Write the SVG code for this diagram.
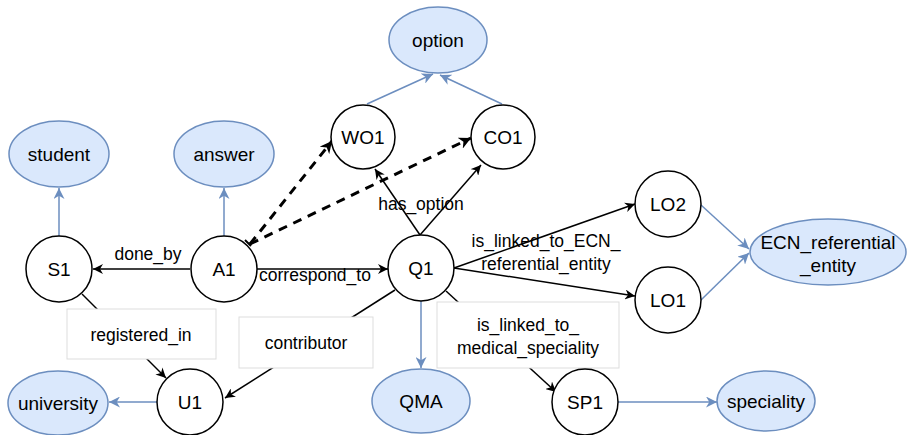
<svg xmlns="http://www.w3.org/2000/svg" width="909" height="435" viewBox="0 0 909 435">
<style>
.n{fill:#ffffff;stroke:#000000;stroke-width:1.5}
.c{fill:#dae8fc;stroke:#6c8ebf;stroke-width:1.5}
.t{font-family:"Liberation Sans",Arial,sans-serif;font-size:19px;fill:#000;text-anchor:middle}
.l{font-family:"Liberation Sans",Arial,sans-serif;font-size:17.5px;fill:#000;text-anchor:middle}
.e{fill:none;stroke:#000;stroke-width:1.5;marker-end:url(#ab)}
.d{fill:none;stroke:#000;stroke-width:3;stroke-dasharray:9,7;marker-end:url(#ad)}
.b{fill:none;stroke:#6c8ebf;stroke-width:1.5;marker-end:url(#au)}
.box{fill:#fff;stroke:#dddddd;stroke-width:1}
</style>
<defs>
<marker id="ab" viewBox="0 0 10 10" refX="10" refY="5" markerWidth="10" markerHeight="10" markerUnits="userSpaceOnUse" orient="auto"><path d="M0,0 L10,5 L0,10 L3,5 z" fill="#000"/></marker>
<marker id="ad" viewBox="0 0 10 10" refX="10" refY="5" markerWidth="12" markerHeight="12" markerUnits="userSpaceOnUse" orient="auto"><path d="M0,0 L10,5 L0,10 L3,5 z" fill="#000"/></marker>
<marker id="au" viewBox="0 0 10 10" refX="10" refY="5" markerWidth="11" markerHeight="11" markerUnits="userSpaceOnUse" orient="auto"><path d="M0,0 L10,5 L0,10 L3,5 z" fill="#6c8ebf"/></marker>
</defs>
<g id="connectors">
<line class="b" x1="59" y1="236" x2="59" y2="188"/>
<line class="b" x1="224" y1="236" x2="224" y2="188"/>
<line class="b" x1="367" y1="104" x2="433" y2="74"/>
<line class="b" x1="502" y1="104" x2="440" y2="75"/>
<line class="b" x1="421" y1="301" x2="421" y2="368"/>
<line class="b" x1="701" y1="205" x2="749" y2="249"/>
<line class="b" x1="701" y1="300" x2="749" y2="253"/>
<line class="b" x1="157" y1="402" x2="109" y2="402"/>
<line class="b" x1="618" y1="402" x2="717" y2="402"/>
<line class="e" x1="190" y1="269" x2="93" y2="269"/>
<line class="e" x1="257" y1="269" x2="388" y2="269"/>
<line class="e" x1="420" y1="235" x2="375" y2="169"/>
<line class="e" x1="420" y1="235" x2="481" y2="165"/>
<line class="e" x1="454" y1="268" x2="635" y2="204"/>
<line class="e" x1="454" y1="268" x2="635" y2="296"/>
<line class="e" x1="395" y1="290" x2="225" y2="398"/>
<line class="e" x1="82" y1="294" x2="166" y2="378"/>
<line class="e" x1="446" y1="291" x2="556" y2="392"/>
<line class="d" x1="250" y1="244" x2="332" y2="141"/>
<line class="d" x1="250" y1="244" x2="471" y2="138"/>
<path d="M245,240 L251,246" stroke="#000" stroke-width="2"/>
<text class="l" x="148" y="260">done_by</text>
<text class="l" x="315" y="281">correspond_to</text>
<text class="l" x="421" y="210">has_option</text>
<text class="l" x="546" y="247">is_linked_to_ECN_</text>
<text class="l" x="546" y="270">referential_entity</text>
<rect class="box" x="67" y="309" width="149" height="50"/>
<text class="l" x="141" y="341">registered_in</text>
<rect class="box" x="239" y="317" width="134" height="51"/>
<text class="l" x="306" y="349">contributor</text>
<rect class="box" x="437" y="302" width="182" height="66"/>
<text class="l" x="528" y="331">is_linked_to_</text>
<text class="l" x="528" y="354">medical_speciality</text>
</g>
<g id="option"><ellipse class="c" cx="438" cy="40" rx="49" ry="33"/><text class="t" x="438" y="47">option</text></g>
<g id="student"><ellipse class="c" cx="59" cy="154" rx="50" ry="33"/><text class="t" x="59" y="161">student</text></g>
<g id="answer"><ellipse class="c" cx="224" cy="154" rx="50" ry="33"/><text class="t" x="224" y="161">answer</text></g>
<g id="WO1"><circle class="n" cx="363" cy="137" r="32"/><text class="t" x="363" y="144">WO1</text></g>
<g id="CO1"><circle class="n" cx="503" cy="137" r="32"/><text class="t" x="503" y="144">CO1</text></g>
<g id="S1"><circle class="n" cx="59" cy="269" r="33"/><text class="t" x="59" y="276">S1</text></g>
<g id="A1"><circle class="n" cx="224" cy="269" r="33"/><text class="t" x="224" y="276">A1</text></g>
<g id="Q1"><circle class="n" cx="421" cy="268" r="33"/><text class="t" x="421" y="275">Q1</text></g>
<g id="LO2"><circle class="n" cx="668" cy="204" r="33"/><text class="t" x="668" y="211">LO2</text></g>
<g id="LO1"><circle class="n" cx="668" cy="300" r="33"/><text class="t" x="668" y="307">LO1</text></g>
<g id="ECN_referential_entity"><ellipse class="c" cx="828" cy="252" rx="78" ry="33"/><text class="t" x="828" y="249">ECN_referential</text><text class="t" x="828" y="272">_entity</text></g>
<g id="university"><ellipse class="c" cx="58" cy="403" rx="50" ry="32"/><text class="t" x="58" y="410">university</text></g>
<g id="U1"><circle class="n" cx="190" cy="402" r="33"/><text class="t" x="190" y="409">U1</text></g>
<g id="QMA"><ellipse class="c" cx="421" cy="401" rx="49" ry="32"/><text class="t" x="421" y="408">QMA</text></g>
<g id="SP1"><circle class="n" cx="585" cy="402" r="33"/><text class="t" x="585" y="409">SP1</text></g>
<g id="speciality"><ellipse class="c" cx="766" cy="401" rx="49" ry="30"/><text class="t" x="766" y="408">speciality</text></g>
</svg>
